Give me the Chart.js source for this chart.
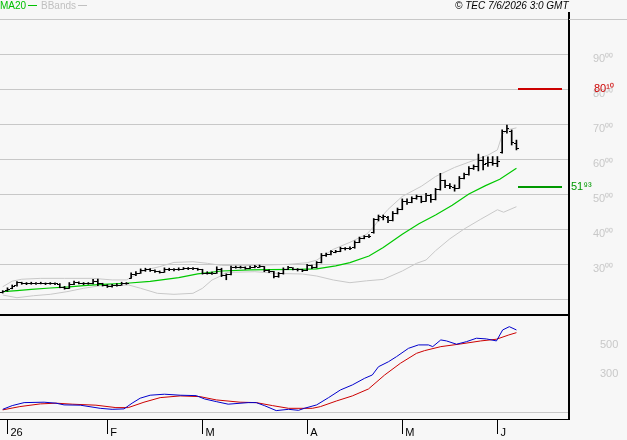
<!DOCTYPE html>
<html><head><meta charset="utf-8">
<script src="https://cdn.jsdelivr.net/npm/chart.js@4.4.1/dist/chart.umd.min.js"></script>
<style>
html,body{margin:0;padding:0;background:#f7f7f7;}
#wrap{position:relative;width:627px;height:440px;overflow:hidden;background:#f7f7f7;font-family:"Liberation Sans",Arial,sans-serif;}
canvas{position:absolute;left:0;}
#c1{top:0}#c2{top:315px}
.t{position:absolute;top:0px;font-size:10px;line-height:12px;white-space:nowrap}
.ln{display:inline-block;width:9px;height:1px;vertical-align:3px;margin-left:2px}
</style></head><body>
<div id="wrap">
<canvas id="c1" width="627" height="316"></canvas>
<canvas id="c2" width="627" height="125"></canvas>
<div class="t" style="left:0;color:#00c000">MA20<span class="ln" style="background:#00c000"></span></div>
<div class="t" style="left:41px;color:#c0c0c0">BBands<span class="ln" style="background:#c0c0c0"></span></div>
<div class="t" style="left:455px;font-style:italic;color:#000">© TEC 7/6/2026 3:0 GMT</div>
<div style="position:absolute;left:568px;top:12px;width:2px;height:8px;background:#000"></div>
<div style="position:absolute;left:569px;top:19px;width:58px;height:1px;background:#c8c8c8"></div>
</div>
<script>
// ---------- DATA ----------
const opens = [2190,2230,2300,2380,2470,2440,2430,2450,2440,2450,
 2430,2440,2420,2340,2310,2420,2470,2450,2430,2440,
 2500,2440,2400,2370,2380,2400,2450,2600,2690,2740,
 2810,2850,2810,2780,2770,2850,2830,2830,2850,2860,
 2865,2860,2840,2740,2730,2740,2850,2670,2700,2900,
 2900,2900,2880,2900,2910,2920,2810,2780,2650,2720,
 2850,2890,2850,2830,2820,2950,2900,3040,3250,3280,
 3340,3360,3440,3430,3460,3620,3730,3780,3900,4260,
 4340,4340,4240,4450,4560,4800,4770,4880,4920,4800,
 4960,4840,5120,5380,5250,5200,5170,5450,5550,5740,
 5790,5950,5860,5900,5880,6200,6800,6800,6450];
const highs = [2240,2320,2400,2500,2480,2470,2480,2470,2480,2460,
 2470,2460,2440,2360,2470,2510,2490,2470,2470,2560,
 2570,2450,2410,2420,2440,2480,2470,2750,2780,2860,
 2880,2870,2830,2800,2890,2880,2870,2890,2900,2900,
 2900,2880,2850,2780,2770,2920,2880,2720,2940,2940,
 2940,2920,2940,2960,2970,2930,2830,2790,2760,2890,
 2930,2900,2870,2850,2990,2970,3070,3300,3310,3380,
 3390,3480,3470,3490,3660,3770,3810,3840,4300,4400,
 4400,4360,4500,4600,4860,4860,4920,4970,4940,5020,
 4990,5160,5590,5400,5300,5260,5500,5600,5780,5830,
 6140,6070,6060,6070,6070,6830,6970,6830,6540];
const lows = [2170,2220,2290,2370,2420,2410,2420,2420,2430,2410,
 2420,2410,2320,2280,2300,2410,2430,2410,2420,2430,
 2380,2370,2330,2340,2370,2390,2420,2590,2670,2730,
 2790,2790,2760,2740,2760,2810,2800,2820,2840,2840,
 2840,2820,2710,2710,2700,2730,2640,2550,2690,2880,
 2880,2850,2870,2890,2900,2780,2750,2600,2620,2710,
 2840,2830,2800,2780,2810,2870,2890,3030,3220,3260,
 3320,3350,3400,3410,3450,3610,3720,3750,3880,4230,
 4260,4180,4230,4430,4550,4700,4750,4850,4750,4790,
 4760,4830,5110,5180,5150,5080,5160,5430,5540,5700,
 5660,5690,5790,5820,5780,6170,6740,6400,6260];
const closes = [2210,2280,2370,2465,2450,2430,2450,2440,2450,2430,
 2440,2430,2335,2305,2410,2475,2450,2430,2440,2495,
 2450,2400,2370,2380,2400,2450,2450,2690,2735,2810,
 2850,2810,2780,2765,2850,2830,2830,2850,2865,2865,
 2865,2850,2735,2735,2735,2850,2660,2690,2905,2905,
 2905,2875,2905,2915,2925,2810,2780,2640,2715,2850,
 2895,2850,2830,2810,2950,2895,3035,3255,3275,3350,
 3350,3450,3430,3450,3610,3735,3780,3800,4260,4350,
 4350,4230,4450,4545,4800,4765,4875,4925,4800,4970,
 4830,5115,5400,5255,5210,5165,5450,5545,5735,5780,
 5950,5850,5900,5880,5930,6800,6860,6460,6290];

const maIdx = [0,3,6,10,14,17,21,26,31,37,41,46,52,56,62,66,70,73,77,80,84,87.5,91,94.5,98,101.5,104.5,108];
const maVal = [2210,2240,2275,2314,2345,2380,2420,2450,2505,2610,2720,2800,2830,2840,2845,2860,2945,3040,3230,3470,3850,4150,4400,4680,5000,5240,5420,5734];

const bbUpIdx = [0,2,4,8,13,19,23,26,28,30,33,36,40,43,46,50,55,60,64,66,69.5,73,76.5,78,79.5,81,84,88,91,95,98,102,104,105,106,108];
const bbUpVal = [2350,2510,2565,2590,2590,2590,2545,2545,2690,2830,2925,3045,3065,3020,2960,2950,2970,2990,3037,3110,3420,3620,3850,4066,4330,4560,4930,5220,5500,5760,5910,6110,6260,6690,6830,6890];

const bbLoIdx = [0,3,6.5,10,13.5,17,20.5,26.5,29,32.5,36,40,42,44,45.5,47,53,58,63,66,69.5,73,76.5,80,84,87,89,91,94,97,100.5,104,105.3,108];
const bbLoVal = [2114,2037,2094,2134,2209,2306,2380,2400,2306,2163,2134,2163,2306,2543,2637,2760,2780,2730,2714,2657,2543,2466,2520,2560,2800,3020,3114,3380,3720,4000,4280,4550,4480,4637];

const macdIdx = [0,2,4.5,8.7,11.2,12.9,16.3,20.5,23,25.5,27.2,28.9,31,34,37.3,40.7,42.4,44.9,47.4,51.6,53.3,55,57.5,60.1,62.2,63.4,66,68.5,71,73.5,76.1,77.7,79,81.1,82.8,85.3,87.4,89.5,90.4,92.1,93.3,95.4,97.5,99.6,101.7,103.8,105.1,106.5,108];
const macdVal = [22,48,69,72,65,53,51,29,22,25,65,100,121,128,121,118,95,76,58,69,69,48,13,22,15,29,53,104,158,193,240,263,321,356,392,450,474,474,462,509,502,479,497,521,516,502,579,602,579];

const sigIdx = [0,3.6,7.9,11.2,14.6,19.6,23.8,26.4,29.7,33.1,37.3,41.5,44.9,49.9,53.3,56.7,60.1,65.1,66.8,70.2,73.5,76.9,80.3,83.6,87,88.7,92.1,96.3,100.5,103.8,106.4,108];
const sigVal = [18,41,60,65,58,51,34,34,72,104,116,111,88,72,69,48,29,29,41,81,116,165,263,345,415,434,462,481,502,514,544,560];

const levelValues = [8010, 5193];
const priceTicks = [2000,3000,4000,5000,6000,7000,8000,9000,10000];
const priceLabelTicks = [3000,4000,5000,6000,7000,8000,9000];
const macdTicks = [0,300,500];
const macdLabelTicks = [300,500];
const monthIdx = [1,22,42,64,84,104];
const monthLabels = ['26','F','M','A','M','J'];

// ---------- helpers ----------
const SUP = '\u2070\u00b9\u00b2\u00b3\u2074\u2075\u2076\u2077\u2078\u2079';
function fmtSup(v){ const s = String(Math.round(v)); return s.slice(0,-2) + s.slice(-2).split('').map(d=>SUP[+d]).join(''); }
const pts = (xs, ys) => xs.map((x,k)=>({x:x, y:ys[k]}));
function tickImg(side){ const c=document.createElement('canvas'); c.width=5; c.height=1; const g=c.getContext('2d'); g.fillStyle='#000'; g.fillRect(side<0?0:3,0,2,1); return c; }

const X_MIN = -0.57, X_MAX = 119.05;
const FONT = '"Liberation Sans", Arial, sans-serif';
const levelStyle = [{color:'#cc0000', dx:25}, {color:'#009900', dx:2}];

const crisp = { id:'crisp', beforeDatasetsDraw(chart){ chart.ctx.imageSmoothingEnabled = false; } };
const levelPlugin = {
  id:'levels',
  afterDatasetsDraw(chart){
    const {ctx, chartArea, scales} = chart; const y = scales.y;
    ctx.save();
    levelValues.forEach((v,k)=>{
      const py = Math.round(y.getPixelForValue(v));
      const st = levelStyle[k];
      ctx.fillStyle = st.color;
      ctx.fillRect(chartArea.right-51, py-1, 44, 2);
      ctx.font = '11px ' + FONT; ctx.textBaseline='middle'; ctx.textAlign='left';
      ctx.fillText(fmtSup(v), chartArea.right+st.dx, py);
    });
    ctx.restore();
  }
};

new Chart(document.getElementById('c1'), {
  type:'bar',
  data:{ datasets:[
    {type:'bar', label:'HL', data: closes.map((c,i)=>({x:i, y:[lows[i], highs[i]]})), backgroundColor:'#000', borderWidth:0, barThickness:1, order:0},
    {type:'scatter', label:'Open', data: opens.map((o,i)=>({x:i,y:o})), pointStyle: tickImg(-1), pointRadius:2, order:0},
    {type:'scatter', label:'Close', data: closes.map((c,i)=>({x:i,y:c})), pointStyle: tickImg(1), pointRadius:2, order:0},
    {type:'line', label:'MA20', data: pts(maIdx, maVal), borderColor:'#00c800', borderWidth:1.2, pointRadius:0, tension:0, order:1},
    {type:'line', label:'BB up', data: pts(bbUpIdx, bbUpVal), borderColor:'#c8c8c8', borderWidth:1, pointRadius:0, tension:0, order:2},
    {type:'line', label:'BB low', data: pts(bbLoIdx, bbLoVal), borderColor:'#c8c8c8', borderWidth:1, pointRadius:0, tension:0, order:2}
  ]},
  options:{
    responsive:false, animation:false, events:[],
    layout:{autoPadding:false, padding:{top:19,bottom:1,left:0,right:0}},
    plugins:{legend:{display:false}, tooltip:{enabled:false}},
    scales:{
      x:{type:'linear', min:X_MIN, max:X_MAX, offset:false, ticks:{display:false}, grid:{display:false, drawTicks:false, offset:false},
         border:{display:true, color:'#000', width:2},
         afterFit(s){ s.height=0; s.paddingLeft=0; s.paddingRight=0; }},
      y:{position:'right', min:1543, max:10000,
         afterBuildTicks(s){ s.ticks = priceTicks.map(v=>({value:v})); },
         afterFit(s){ s.width=58; s.paddingTop=0; s.paddingBottom=0; },
         ticks:{ callback:(v)=> priceLabelTicks.includes(v) ? fmtSup(v) : '', color:'#c8c8c8', font:{size:11, family:FONT}, padding:24, labelOffset:5 },
         grid:{ color:'#c8c8c8', drawTicks:false, lineWidth:1 },
         border:{ color:'#000', width:2 }}
    }
  },
  plugins:[crisp, levelPlugin]
});

new Chart(document.getElementById('c2'), {
  type:'line',
  data:{ datasets:[
    {label:'MACD', data: pts(macdIdx, macdVal), borderColor:'#0000cc', borderWidth:1, pointRadius:0, tension:0},
    {label:'Signal', data: pts(sigIdx, sigVal), borderColor:'#cc0000', borderWidth:1, pointRadius:0, tension:0}
  ]},
  options:{
    responsive:false, animation:false, events:[],
    layout:{autoPadding:false, padding:{top:1,bottom:0,left:0,right:0}},
    plugins:{legend:{display:false}, tooltip:{enabled:false}, title:{display:false}},
    scales:{
      x:{type:'linear', min:X_MIN, max:X_MAX, offset:false,
         afterBuildTicks(s){ s.ticks = monthIdx.map(v=>({value:v})); },
         afterFit(s){ s.height=21; s.paddingLeft=0; s.paddingRight=0; },
         ticks:{ callback:(v)=>{ const k = monthIdx.indexOf(v); return k>=0 ? monthLabels[k] : ''; }, color:'#000', font:{size:11, family:FONT}, align:'start', labelOffset:3, padding:-8, maxRotation:0, autoSkip:false },
         grid:{ drawOnChartArea:false, drawTicks:true, tickLength:15, color:'#000', lineWidth:1 },
         border:{ color:'#000', width:1 }},
      y:{position:'right', min:-46, max:677,
         afterBuildTicks(s){ s.ticks = macdTicks.map(v=>({value:v})); },
         afterFit(s){ s.width=58; s.paddingTop=0; s.paddingBottom=0; },
         ticks:{ callback:(v)=> macdLabelTicks.includes(v) ? String(v) : '', color:'#c8c8c8', font:{size:11, family:FONT}, padding:31, labelOffset:4 },
         grid:{ color:(c)=> c.tick && c.tick.value===0 ? '#c8c8c8' : 'rgba(0,0,0,0)', drawTicks:false },
         border:{ color:'#000', width:2 }}
    }
  }
});
</script></body></html>
